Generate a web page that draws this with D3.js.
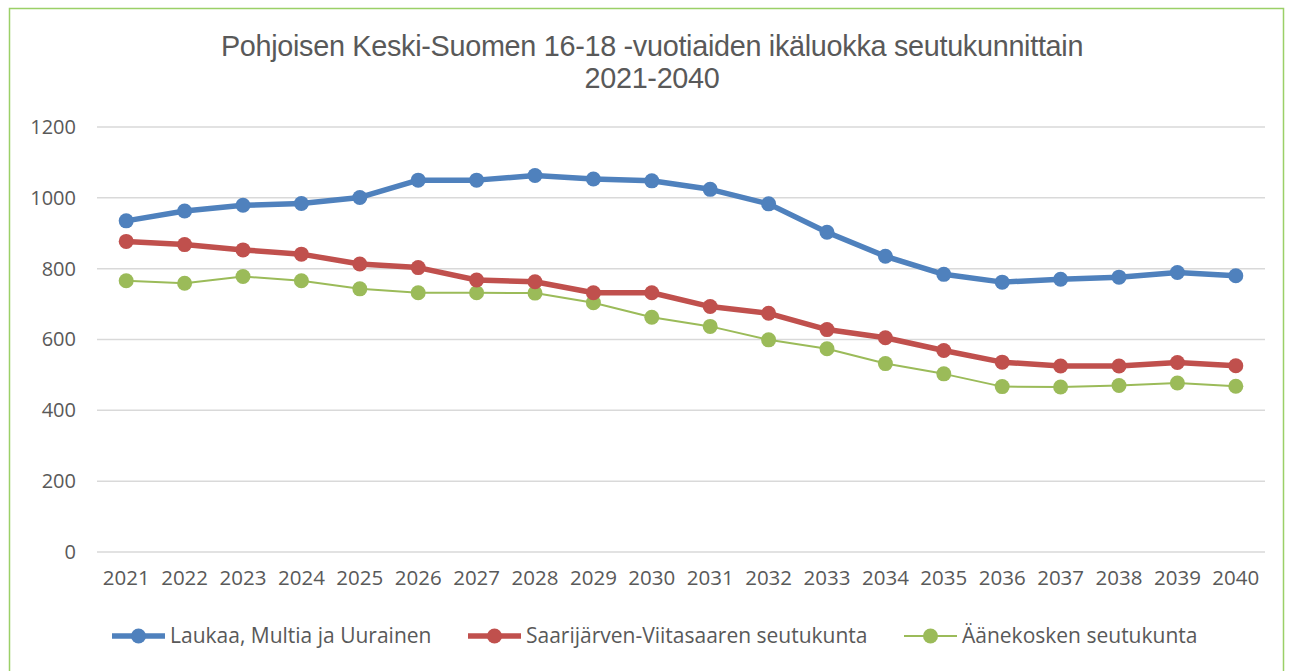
<!DOCTYPE html>
<html>
<head>
<meta charset="utf-8">
<script src="https://cdn.jsdelivr.net/npm/d3@7"></script>
<style>
  body { margin: 0; background: #fff; }
  text { font-family: "Open Sans", "Liberation Sans", sans-serif; fill: #595959; }
</style>
</head>
<body>
<div id="root"></div>
<script>
var years = ['2021', '2022', '2023', '2024', '2025', '2026', '2027', '2028', '2029', '2030',
  '2031', '2032', '2033', '2034', '2035', '2036', '2037', '2038', '2039', '2040'];
var laukaa = [935, 963, 979, 984, 1001, 1050, 1050, 1063, 1053, 1048,
  1024, 983, 903, 835, 784, 762, 770, 776, 789, 780];
var saarijarvi = [877, 868, 853, 841, 813, 803, 768, 763, 732, 732,
  693, 674, 628, 605, 569, 536, 525, 525, 535, 526];
var aanekoski = [766, 759, 778, 766, 743, 732, 732, 731, 704, 663,
  637, 599, 574, 532, 503, 467, 466, 470, 477, 468];
var yTicks = [0, 200, 400, 600, 800, 1000, 1200];
var seriesNames = ['Laukaa, Multia ja Uurainen', 'Saarijärven-Viitasaaren seutukunta', 'Äänekosken seutukunta'];

var series = [
  { name: seriesNames[0], values: laukaa, color: '#4F81BD', width: 5.5 },
  { name: seriesNames[1], values: saarijarvi, color: '#C0504D', width: 5.5 },
  { name: seriesNames[2], values: aanekoski, color: '#9BBB59', width: 2 }
];

var w = 1293;
var h = 671;
var plotLeft = 97, plotRight = 1265, plotTop = 127, plotBottom = 552;

var svg = d3.select('#root').append('svg')
  .attr('width', w)
  .attr('height', h);

// frame
svg.append('path')
  .attr('d', 'M9.5,' + h + ' L9.5,8.5 L1283.5,8.5 L1283.5,' + h)
  .attr('fill', 'none')
  .attr('stroke', '#9BD067')
  .attr('stroke-width', 1.5);

// title
var title = svg.append('text')
  .attr('text-anchor', 'middle')
  .style('font-family', '"Liberation Sans", sans-serif')
  .style('font-size', '28.8px')
  .style('letter-spacing', '-0.3px');
title.append('tspan').attr('x', 652).attr('y', 56).text('Pohjoisen Keski-Suomen 16-18 -vuotiaiden ikäluokka seutukunnittain');
title.append('tspan').attr('x', 652).attr('y', 88).text('2021-2040');

var x = d3.scaleBand().domain(years).range([plotLeft, plotRight]);
var y = d3.scaleLinear().domain([0, 1200]).range([plotBottom, plotTop]);

// gridlines
svg.append('g')
  .selectAll('line')
  .data(yTicks)
  .enter()
  .append('line')
  .attr('x1', plotLeft)
  .attr('x2', plotRight)
  .attr('y1', function(d) { return y(d); })
  .attr('y2', function(d) { return y(d); })
  .attr('stroke', '#D9D9D9')
  .attr('stroke-width', 1.5);

// y axis
var yAxis = svg.append('g')
  .attr('transform', 'translate(' + (plotLeft - 21) + ',0)')
  .call(d3.axisLeft(y).tickValues(yTicks).tickFormat(d3.format('d')).tickSize(0).tickPadding(0));
yAxis.select('.domain').remove();
yAxis.selectAll('text').style('font-size', '20px').attr('fill', '#595959');

// x axis
var xAxis = svg.append('g')
  .attr('transform', 'translate(0,' + (plotBottom + 14) + ')')
  .call(d3.axisBottom(x).tickSize(0).tickPadding(4));
xAxis.select('.domain').remove();
xAxis.selectAll('text').style('font-size', '20.5px').attr('fill', '#595959');

var line = d3.line()
  .x(function(d, i) { return x(years[i]) + x.bandwidth() / 2; })
  .y(function(d) { return y(d); });

series.slice().reverse().forEach(function(s) {
  var g = svg.append('g');
  g.append('path')
    .datum(s.values)
    .attr('d', line)
    .attr('fill', 'none')
    .attr('stroke', s.color)
    .attr('stroke-width', s.width)
    .attr('stroke-linejoin', 'round');
  g.selectAll('circle')
    .data(s.values)
    .enter()
    .append('circle')
    .attr('cx', function(d, i) { return x(years[i]) + x.bandwidth() / 2; })
    .attr('cy', function(d) { return y(d); })
    .attr('r', 7.5)
    .attr('fill', s.color);
});

// legend
var legendX = [112, 468, 904];
var legend = svg.append('g')
  .selectAll('g')
  .data(series)
  .enter()
  .append('g')
  .attr('transform', function(d, i) { return 'translate(' + legendX[i] + ',636)'; });
legend.append('line')
  .attr('x1', 0).attr('x2', 53)
  .attr('stroke', function(d) { return d.color; })
  .attr('stroke-width', function(d) { return d.width; });
legend.append('circle')
  .attr('cx', 26.5)
  .attr('r', 7.5)
  .attr('fill', function(d) { return d.color; });
legend.append('text')
  .attr('x', 58)
  .attr('dy', '0.35em')
  .style('font-size', '21px')
  .text(function(d) { return d.name; });
</script>
</body>
</html>
